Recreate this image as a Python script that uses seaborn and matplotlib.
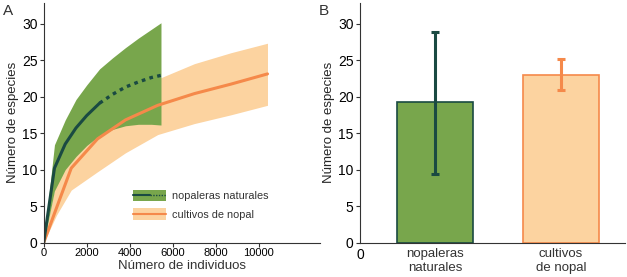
import matplotlib
matplotlib.use("Agg")
import matplotlib.pyplot as plt
import seaborn as sns
from matplotlib.legend_handler import HandlerBase
from matplotlib.patches import Rectangle
from matplotlib.lines import Line2D

# curva de rarefaccion - nopaleras naturales (solido hasta 2600, extrapolado despues)
nat_x = [0, 500, 1000, 1500, 2000, 2600, 3200, 3800, 4400, 5000, 5450]
nat_mean = [0, 10.2, 13.5, 15.7, 17.4, 19.1, 20.3, 21.3, 22.0, 22.6, 22.9]
nat_upper = [0, 13.4, 16.8, 19.6, 21.6, 23.8, 25.3, 26.7, 28.0, 29.2, 30.1]
nat_lower = [0, 7.1, 10.0, 11.8, 13.3, 14.7, 15.5, 16.0, 16.2, 16.2, 16.1]
n_obs = 6  # puntos observados

# cultivos de nopal
cul_x = [0, 600, 1280, 2500, 3800, 5300, 7000, 8700, 10400]
cul_mean = [0, 4.8, 10.2, 14.2, 16.8, 18.8, 20.4, 21.7, 23.1]
cul_upper = [0, 8.7, 12.2, 16.0, 19.8, 22.4, 24.5, 26.0, 27.3]
cul_lower = [0, 3.8, 7.2, 9.7, 12.3, 14.8, 16.3, 17.5, 18.8]

# panel B
bar_labels = ["nopaleras\nnaturales", "cultivos\nde nopal"]
bar_vals = [19.2, 22.9]
err_low = [9.4, 20.9]
err_high = [28.9, 25.1]

green = "#78a64c"
dark = "#1a4a42"
peach = "#fcd3a0"
orange = "#f5894a"

sns.set_style("ticks")
plt.rcParams["font.family"] = ["Liberation Sans", "DejaVu Sans"]
plt.rcParams["axes.edgecolor"] = "#333333"
plt.rcParams["xtick.color"] = "#333333"
plt.rcParams["ytick.color"] = "#333333"
plt.rcParams["xtick.labelcolor"] = "black"
plt.rcParams["ytick.labelcolor"] = "black"

fig = plt.figure(figsize=(6.27, 2.77), dpi=100)
axA = fig.add_axes([0.0697, 0.124, 0.441, 0.865])
axB = fig.add_axes([0.574, 0.124, 0.423, 0.865])

# ---- A ----
axA.fill_between(cul_x, cul_lower, cul_upper, color=peach, lw=0)
axA.fill_between(nat_x, nat_lower, nat_upper, color=green, lw=0)
sns.lineplot(x=cul_x, y=cul_mean, color=orange, lw=2.2, ax=axA)
sns.lineplot(x=nat_x[:n_obs], y=nat_mean[:n_obs], color=dark, lw=2.2, ax=axA)
sns.lineplot(x=nat_x[n_obs - 1:], y=nat_mean[n_obs - 1:], color=dark, lw=2.4,
             linestyle=(0, (1.1, 1.3)), ax=axA)

axA.set_xlim(0, 12850)
axA.set_ylim(0, 32.8)
axA.set_xticks([0, 2000, 4000, 6000, 8000, 10000])
axA.set_yticks(range(0, 31, 5))
axA.set_xlabel("Número de individuos", fontsize=9.5, color="#333333", labelpad=1)
axA.set_ylabel("Número de especies", fontsize=9.5, labelpad=2)
axA.tick_params(axis="y", labelsize=10, length=3, width=0.8, pad=1.5)
axA.tick_params(axis="x", labelsize=8, length=3, width=0.8, pad=1)
sns.despine(ax=axA)


class SolidDotted(HandlerBase):
    def create_artists(self, legend, orig_handle, xdescent, ydescent, width, height, fontsize, trans):
        y = height / 2 - ydescent
        x0 = -xdescent
        r = Rectangle((x0, -ydescent - 1.5), width, height + 3, fc=green, lw=0, transform=trans)
        l1 = Line2D([x0, x0 + width * 0.5], [y, y], color=dark, lw=1.5, transform=trans)
        l2 = Line2D([x0 + width * 0.5, x0 + width], [y, y], color=dark, lw=1.0,
                    linestyle=(0, (1, 1)), transform=trans)
        return [r, l1, l2]


class BandLine(HandlerBase):
    def create_artists(self, legend, orig_handle, xdescent, ydescent, width, height, fontsize, trans):
        y = height / 2 - ydescent
        x0 = -xdescent
        r = Rectangle((x0, -ydescent - 1.5), width, height + 3, fc=peach, lw=0, transform=trans)
        l1 = Line2D([x0, x0 + width], [y, y], color=orange, lw=1.5, transform=trans)
        return [r, l1]


h1, h2 = object(), object()
leg = axA.legend([h1, h2], ["nopaleras naturales", "cultivos de nopal"],
                 handler_map={h1: SolidDotted(), h2: BandLine()},
                 loc="upper left", bbox_to_anchor=(0.322, 0.215), frameon=False,
                 fontsize=7.8, handlelength=3.1, handleheight=0.65, handletextpad=0.55,
                 labelspacing=0.8, borderaxespad=0, borderpad=0)
for t in leg.get_texts():
    t.set_color("#333333")

# ---- B ----
sns.barplot(x=bar_labels, y=bar_vals, hue=bar_labels, palette=[green, peach],
            width=0.6, saturation=1, legend=False, ax=axB)
for p, ec in zip(axB.patches, [dark, orange]):
    p.set_edgecolor(ec)
    p.set_linewidth(1.2)
for i, c in enumerate([dark, orange]):
    axB.errorbar([i], [bar_vals[i]],
                 yerr=[[bar_vals[i] - err_low[i]], [err_high[i] - bar_vals[i]]],
                 fmt="none", ecolor=c, elinewidth=2.2, capsize=3, capthick=2.2)

axB.set_xlim(-0.597, 1.51)
axB.set_ylim(0, 32.8)
axB.set_yticks(range(0, 31, 5))
axB.set_xticks([-0.597, 0, 1])
axB.set_xticklabels(["0"] + bar_labels)
axB.set_ylabel("Número de especies", fontsize=9.5, labelpad=2)
axB.tick_params(labelsize=10, length=3, width=0.8, pad=1.5)
axB.tick_params(axis="x", length=0, pad=4, labelsize=9.5)
xl = axB.get_xticklabels()
xl[0].set_fontsize(10)
for lab in xl[1:]:
    lab.set_color("#333333")
sns.despine(ax=axB)

fig.text(0.005, 0.985, "A", fontsize=11, va="top", ha="left", color="#333333")
fig.text(0.508, 0.985, "B", fontsize=11, va="top", ha="left", color="#333333")

fig.savefig("out.png", dpi=100)
